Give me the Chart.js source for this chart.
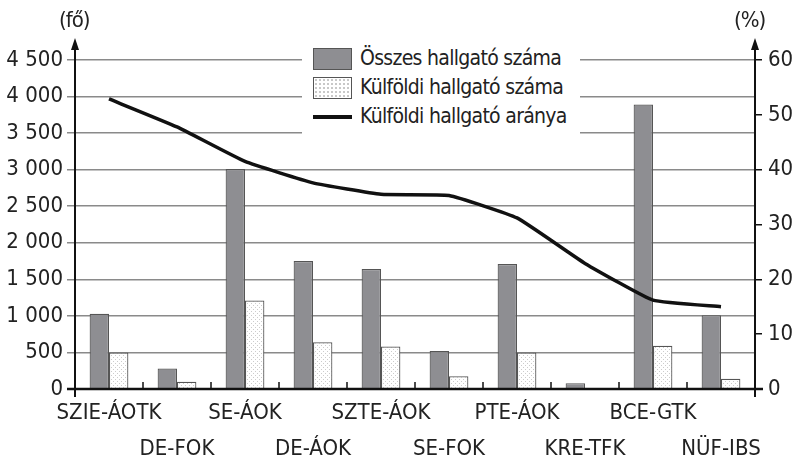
<!DOCTYPE html>
<html><head><meta charset="utf-8">
<script src="https://cdn.jsdelivr.net/npm/chart.js@4/dist/chart.umd.min.js"></script>
<style>
html,body{margin:0;padding:0;background:#fff;}
#wrap{position:relative;width:796px;height:462px;overflow:hidden;}
canvas{position:absolute;left:0;top:0;}
.t{position:absolute;font-family:'Liberation Sans Narrow','Arial Narrow','DejaVu Sans Condensed',sans-serif;color:#222;font-size:22px;white-space:nowrap;line-height:1;}
#legend{position:absolute;left:302px;top:44px;width:278px;height:96px;background:#fff;}
#legend .lt{font-size:21px;letter-spacing:-0.7px;}
.sw{position:absolute;left:11px;width:37px;height:20px;border:1px solid #555;}
.lt{position:absolute;left:58px;}
</style></head>
<body>
<div id="wrap">
<canvas id="c" width="796" height="462"></canvas>
<div class="t" style="left:59px;top:9px;letter-spacing:-1px">(fő)</div>
<div class="t" style="left:734px;top:9px;letter-spacing:-1px">(%)</div>
<div id="legend">
  <div class="sw" style="top:4px;background:#8e8e92;"></div>
  <div class="t lt" style="top:4px">Összes hallgató száma</div>
  <div class="sw" style="top:33px;background-color:#fff;background-image:radial-gradient(#c8c8c8 0.8px, transparent 1.2px);background-size:4px 4px;"></div>
  <div class="t lt" style="top:33px">Külföldi hallgató száma</div>
  <div style="position:absolute;left:11px;top:71px;width:39px;height:4px;background:#111;"></div>
  <div class="t lt" style="top:62px">Külföldi hallgató aránya</div>
</div>
</div>
<script>
const categories = ['SZIE-ÁOTK','DE-FOK','SE-ÁOK','DE-ÁOK','SZTE-ÁOK','SE-FOK','PTE-ÁOK','KRE-TFK','BCE-GTK','NÜF-IBS'];
const totalStudents = [1030, 280, 3010, 1750, 1640, 520, 1710, 80, 3890, 1010];
const foreignStudents = [500, 100, 1210, 640, 580, 175, 500, 0, 590, 140];
const foreignShare = [52.9, 47.8, 41.5, 37.6, 35.5, 35.3, 31.2, 22.9, 16.2, 15.0];
const leftTicks = [0, 500, 1000, 1500, 2000, 2500, 3000, 3500, 4000, 4500];
const rightTicks = [0, 10, 20, 30, 40, 50, 60];

const FONT = "'Liberation Sans Narrow','Arial Narrow','DejaVu Sans Condensed',sans-serif";

function dotPattern(){
  const p = document.createElement('canvas');
  p.width = 4; p.height = 4;
  const g = p.getContext('2d');
  g.fillStyle = '#fff'; g.fillRect(0,0,4,4);
  g.fillStyle = '#cccccc'; g.fillRect(1,1,1,1); g.fillRect(3,3,1,1);
  return document.getElementById('c').getContext('2d').createPattern(p,'repeat');
}

function fmt(v){ return String(v).replace(/\B(?=(\d{3})+(?!\d))/g,' '); }

const axesPlugin = {
  id:'axesPlugin',
  afterDatasetsDraw(chart){
    const ctx = chart.ctx, a = chart.chartArea, xs = chart.scales.x;
    ctx.save();
    ctx.strokeStyle = '#111'; ctx.fillStyle = '#111';
    ctx.lineWidth = 1.5;
    for (let i=1;i<categories.length;i++){
      const x = (xs.getPixelForValue(i-1)+xs.getPixelForValue(i))/2;
      ctx.beginPath(); ctx.moveTo(x, a.bottom-7); ctx.lineTo(x, a.bottom); ctx.stroke();
    }
    ctx.lineWidth = 2;
    [a.left, a.right].forEach(x=>{
      ctx.beginPath(); ctx.moveTo(x, a.bottom+8); ctx.lineTo(x, 46); ctx.stroke();
      ctx.beginPath(); ctx.moveTo(x, 38); ctx.lineTo(x-4, 50); ctx.lineTo(x+4, 50); ctx.closePath(); ctx.fill();
    });
    ctx.lineWidth = 2.5;
    ctx.beginPath(); ctx.moveTo(a.left-8, a.bottom); ctx.lineTo(a.right+8, a.bottom); ctx.stroke();
    ctx.restore();
  }
};

new Chart(document.getElementById('c'), {
  data:{
    labels: categories,
    datasets:[
      {type:'line', label:'Külföldi hallgató aránya', data: foreignShare, yAxisID:'y1',
       borderColor:'#111', borderWidth:3.5, pointRadius:0, tension:0.12, order:0},
      {type:'bar', label:'Összes hallgató száma', data: totalStudents, yAxisID:'y',
       backgroundColor:'#8e8e92', borderColor:'#555', borderWidth:1.2, order:1,
       categoryPercentage:0.57, barPercentage:1},
      {type:'bar', label:'Külföldi hallgató száma', data: foreignStudents, yAxisID:'y',
       backgroundColor: dotPattern(), borderColor:'#555', borderWidth:1.2, order:1,
       categoryPercentage:0.57, barPercentage:1}
    ]
  },
  options:{
    responsive:false, animation:false, devicePixelRatio:1,
    layout:{padding:{top:60,left:0,right:0,bottom:0}},
    plugins:{legend:{display:false}, tooltip:{enabled:false}},
    scales:{
      x:{
        offset:true,
        grid:{display:false, drawTicks:false},
        border:{display:false},
        ticks:{autoSkip:false, maxRotation:0, minRotation:0, padding:7, color:'#222',
          font:{family:FONT, size:22, lineHeight:1.6},
          callback:(v,i)=> i%2===0 ? [categories[i], ''] : ['', categories[i]]},
        afterFit:s=>{ s.height = 73; }
      },
      y:{
        position:'left', min:0, max:4500,
        afterBuildTicks:s=>{ s.ticks = leftTicks.map(v=>({value:v})); },
        grid:{color:'#8a8a8a', lineWidth:1.5, tickLength:8, tickColor:'#8a8a8a'},
        border:{display:false},
        ticks:{padding:4, color:'#222', font:{family:FONT, size:22}, callback:v=>fmt(v)},
        afterFit:s=>{ s.width = 75; }
      },
      y1:{
        position:'right', min:0, max:60,
        afterBuildTicks:s=>{ s.ticks = rightTicks.map(v=>({value:v})); },
        grid:{drawOnChartArea:false, tickLength:7, tickColor:'#111', lineWidth:1.5},
        border:{display:false},
        ticks:{padding:6, color:'#222', font:{family:FONT, size:22}},
        afterFit:s=>{ s.width = 41; }
      }
    }
  },
  plugins:[axesPlugin]
});
</script>
</body></html>
